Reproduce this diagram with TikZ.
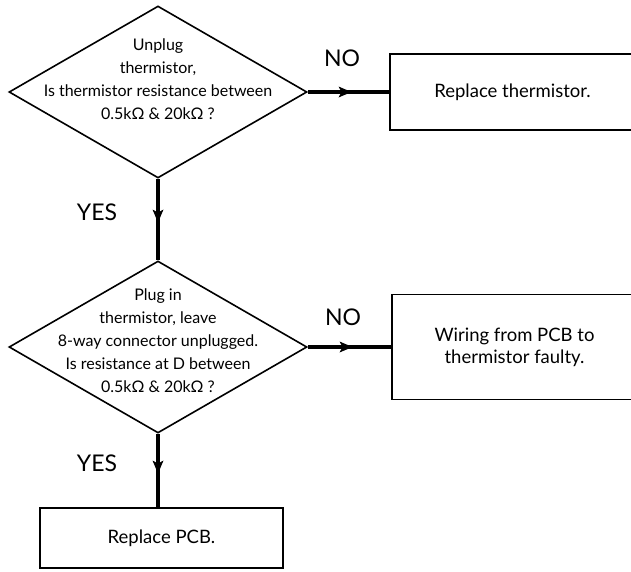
\documentclass[tikz,border=0pt]{standalone}
\usepackage{fontspec}
\setmainfont{Lato}
\usetikzlibrary{shapes.geometric,arrows.meta,decorations.markings}

\begin{document}
\begin{tikzpicture}[x=1pt, y=-1pt, >=Stealth,
    decision/.style={diamond, draw, line width=1.6pt, inner sep=0pt, minimum width=298pt, minimum height=172pt},
    question/.style={align=center, font=\fontsize{16}{23}\selectfont},
    action/.style={rectangle, draw, line width=1.6pt, align=center, font=\fontsize{18.5}{22}\selectfont},
    flow/.style={line width=3.5pt, postaction={decorate},
        decoration={markings, mark=at position 0.5 with {\fill (-10pt,5.5pt) -- (3pt,0pt) -- (-10pt,-5.5pt) -- (-7pt,0pt) -- cycle;}}},
    answer/.style={font=\fontsize{23}{26}\selectfont}]
    \useasboundingbox (0,0) rectangle (631,571);

    \node[decision, label={[question, yshift=13pt]center:{Unplug\\thermistor,\\Is thermistor resistance between\\0.5kΩ \& 20kΩ ?}}] (test1) at (158,92) {};
    \node[decision, label={[question, yshift=6pt]center:{Plug in\\thermistor, leave\\8-way connector unplugged.\\Is resistance at D between\\0.5kΩ \& 20kΩ ?}}] (test2) at (158,347) {};

    \node[action, minimum width=245pt, minimum height=76pt] (fix1) at (512.5,92) {Replace thermistor.};
    \node[action, minimum width=245pt, minimum height=105pt] (fix2) at (514.5,347) {Wiring from PCB to\\thermistor faulty.};
    \node[action, minimum width=243pt, minimum height=60pt] (fix3) at (161.5,538) {Replace PCB.};

    % answers
    \node[answer] (no1) at (342,58) {NO};
    \node[answer] (no2) at (343,317) {NO};
    \node[answer] (yes1) at (97,212) {YES};
    \node[answer] (yes2) at (97,463) {YES};

    \draw[flow] (test1.east) -- (fix1.west);
    \draw[flow] (test1.south) -- (test2.north);
    \draw[flow] (test2.east) -- (fix2.west);
    \draw[flow] (test2.south) -- (test2.south |- fix3.north);
\end{tikzpicture}
\end{document}
